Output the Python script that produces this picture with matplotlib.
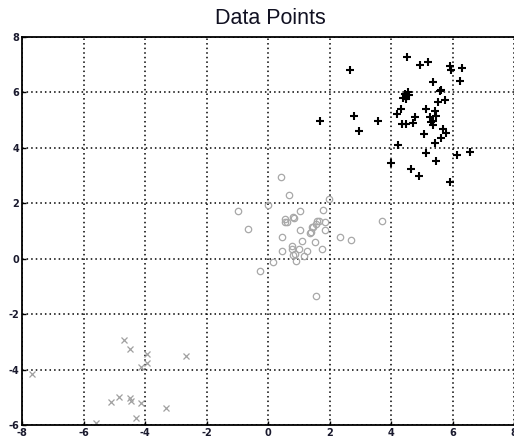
import matplotlib
matplotlib.use("Agg")
import matplotlib.pyplot as plt

title = "Data Points"
x_ticks = [-8, -6, -4, -2, 0, 2, 4, 6, 8]
y_ticks = [-6, -4, -2, 0, 2, 4, 6, 8]

# Class 1: black plus markers
plus_x = [4.53, 4.93, 5.20, 5.91, 5.94, 6.31, 6.25, 2.66, 5.37, 5.64,
          4.45, 4.55, 4.50, 4.60, 4.50, 4.40, 5.60, 5.77, 5.53, 4.34,
          4.20, 5.15, 5.42, 5.45, 5.26, 4.77, 4.72, 4.50, 4.37, 5.35,
          5.37, 5.69, 5.78, 5.06, 5.64, 5.42, 4.23, 5.15, 6.15, 6.58,
          5.47, 4.01, 4.64, 4.90, 5.91, 1.70, 2.80, 2.96, 3.59, 5.29]
plus_y = [7.29, 7.00, 7.10, 6.94, 6.82, 6.87, 6.43, 6.82, 6.36, 6.09,
          5.95, 6.00, 5.85, 5.90, 5.75, 5.80, 6.06, 5.73, 5.64, 5.40,
          5.23, 5.40, 5.34, 5.16, 5.10, 5.10, 4.88, 4.86, 4.86, 4.98,
          4.84, 4.68, 4.52, 4.50, 4.36, 4.16, 4.12, 3.80, 3.75, 3.86,
          3.51, 3.45, 3.24, 3.00, 2.75, 4.96, 5.14, 4.62, 4.96, 4.92]

# Class 2: gray open circles
circ_x = [0.41, 0.68, -0.98, -0.64, 1.04, 0.85, 0.55, 0.63, 1.04, 1.37,
          1.47, 1.60, 0.47, 1.10, 0.77, 1.01, 1.28, 1.53, 0.45, 0.81,
          0.92, 1.17, 0.17, -0.27, 1.55, 1.98, 1.79, 1.66, 1.55, 1.44,
          1.39, 1.85, 1.85, 3.72, 2.34, 2.71, 1.75, 0.00, 0.54, 0.81,
          0.79, 0.87]
circ_y = [2.94, 2.31, 1.71, 1.07, 1.71, 1.47, 1.31, 1.31, 1.04, 0.91,
          1.16, 1.37, 0.77, 0.65, 0.47, 0.35, 0.29, 0.59, 0.29, 0.14,
          -0.07, 0.11, -0.13, -0.46, -1.34, 2.15, 1.76, 1.37, 1.25, 1.13,
          0.95, 1.31, 1.04, 1.37, 0.77, 0.67, 0.35, 1.95, 1.43, 1.49,
          0.35, 0.17]

# Class 3: gray x markers
xm_x = [-7.67, -4.68, -4.50, -3.93, -3.93, -4.14, -2.66, -5.12, -4.85,
        -4.50, -4.47, -4.14, -3.33, -4.30, -5.60]
xm_y = [-4.16, -2.92, -3.26, -3.44, -3.78, -3.92, -3.50, -5.16, -4.98,
        -5.03, -5.13, -5.19, -5.39, -5.73, -5.93]

fig = plt.figure(figsize=(5.14, 4.40), dpi=100)
ax = fig.add_axes([22 / 514, 1 - 425 / 440, 492 / 514, 388 / 440])

ax.plot(circ_x, circ_y, linestyle="none", marker="o", markersize=4.6,
        markerfacecolor="none", markeredgecolor="#a8a8a8", markeredgewidth=0.9)
ax.plot(xm_x, xm_y, linestyle="none", marker="x", markersize=4,
        color="#a0a0a0", markeredgewidth=0.9)
ax.plot(plus_x, plus_y, linestyle="none", marker="+", markersize=6,
        color="black", markeredgewidth=1.5)

ax.set_xlim(-8, 8)
ax.set_ylim(-6, 8)
ax.set_xticks(x_ticks)
ax.set_yticks(y_ticks)
ax.set_xticklabels([str(v) for v in x_ticks], fontsize=7, fontweight="bold", color="#1a1a2e")
ax.set_yticklabels([str(v) for v in y_ticks], fontsize=7, fontweight="bold", color="#1a1a2e")
ax.tick_params(direction="in", length=3, width=1, pad=2)
ax.grid(True, color="black", linestyle=(0, (1, 2)), linewidth=1.1)
ax.set_axisbelow(True)
for s in ["left", "top", "bottom"]:
    ax.spines[s].set_linewidth(1.3)
ax.spines["right"].set_visible(False)

fig.text(270 / 514, 1 - 18 / 440, title, ha="center", va="center",
         fontsize=15.5, color="#111122", family=["Liberation Sans", "DejaVu Sans"])

fig.savefig("out.png", dpi=100)
